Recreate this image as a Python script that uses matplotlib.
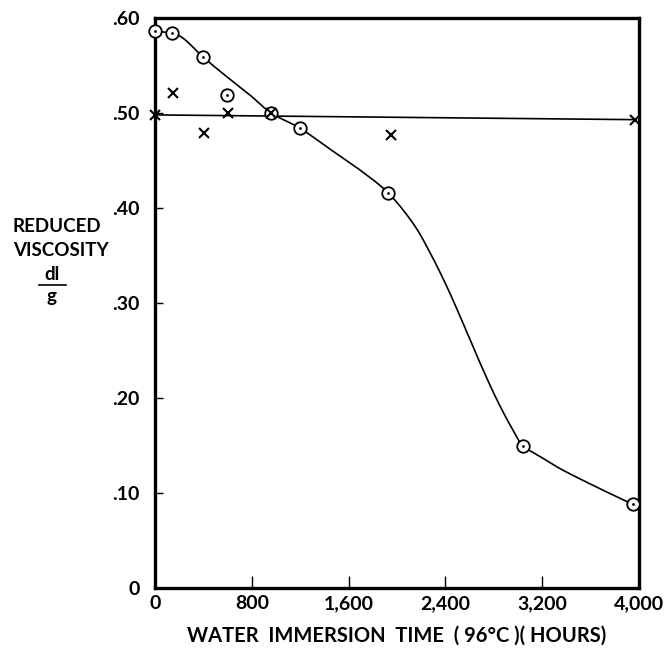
import numpy as np
import matplotlib
matplotlib.use("Agg")
from matplotlib import pyplot as plt

# open circles (reduced viscosity vs. immersion time)
circle_hours = [0, 140, 397, 595, 959, 1198, 1926, 3041, 3950]
circle_visc = [0.586, 0.584, 0.559, 0.519, 0.500, 0.484, 0.416, 0.150, 0.088]

# x marks
cross_hours = [0, 149, 405, 603, 959, 1950, 3967]
cross_visc = [0.498, 0.521, 0.479, 0.500, 0.500, 0.477, 0.493]

# hand drawn curve through the circles
curve_hours = [0, 140, 240, 397, 595, 793, 959, 1198, 1446, 1694, 1926, 2132,
               2273, 2413, 2545, 2686, 2826, 2959, 3041, 3200, 3372, 3653, 3950]
curve_visc = [0.586, 0.584, 0.578, 0.559, 0.538, 0.518, 0.500, 0.484, 0.462, 0.440,
              0.416, 0.384, 0.353, 0.317, 0.279, 0.237, 0.198, 0.166, 0.150, 0.137,
              0.124, 0.106, 0.088]

# flat line through the x marks
flat_hours = [0, 3967]
flat_visc = [0.498, 0.493]

x_ticks = [0, 800, 1600, 2400, 3200, 4000]
x_labels = ["0", "800", "1,600", "2,400", "3,200", "4,000"]
y_ticks = [0, 0.1, 0.2, 0.3, 0.4, 0.5, 0.6]
y_labels = ["0", ".10", ".20", ".30", ".40", ".50", ".60"]

plt.rcParams['font.family'] = ['Lato', 'DejaVu Sans']
plt.rcParams['font.weight'] = 'bold'

W, H = 669, 652
fig = plt.figure(figsize=(W / 100, H / 100), dpi=100)
ax = fig.add_axes([155 / W, 1 - 588 / H, 484 / W, 570 / H])

# smooth curve: catmull-rom through the read points
def catmull(xs, ys, n=20):
    p = np.column_stack([xs, ys]).astype(float)
    p = np.vstack([p[0], p, p[-1]])
    out = []
    for i in range(1, len(p) - 2):
        p0, p1, p2, p3 = p[i - 1], p[i], p[i + 1], p[i + 2]
        for t in np.linspace(0, 1, n, endpoint=False):
            out.append(0.5 * (2 * p1 + (-p0 + p2) * t + (2 * p0 - 5 * p1 + 4 * p2 - p3) * t ** 2
                              + (-p0 + 3 * p1 - 3 * p2 + p3) * t ** 3))
    out.append(p[-2])
    out = np.array(out)
    return out[:, 0], out[:, 1]

cx, cy = catmull(curve_hours, curve_visc)
ax.plot(cx, cy, color='black', lw=1.2, zorder=2)
ax.plot(flat_hours, flat_visc, color='black', lw=1.2, zorder=2)

ax.plot(circle_hours, circle_visc, 'o', ms=9, mfc='white', mec='black', mew=1.3,
        zorder=3, clip_on=False)
ax.plot(circle_hours, circle_visc, '.', ms=2, color='black', zorder=4, clip_on=False)
ax.plot(cross_hours, cross_visc, 'x', ms=6.5, mec='black', mew=1.5, zorder=5, clip_on=False)

ax.set_xlim(0, 4000)
ax.set_ylim(0, 0.6)
ax.set_xticks(x_ticks)
ax.set_xticklabels(x_labels)
ax.set_yticks(y_ticks)
ax.set_yticklabels(y_labels)
ax.tick_params(axis='x', direction='in', length=9, width=1, pad=5, labelsize=14)
ax.tick_params(axis='y', direction='in', length=6, width=1, pad=11, labelsize=14)
for s in ax.spines.values():
    s.set_linewidth(2.4)

ax.set_xlabel("WATER  IMMERSION  TIME  ( 96°C )( HOURS)", fontsize=14.5,
              fontweight='bold', labelpad=10)

def fx(px):
    return px / W

def fy(py):
    return 1 - py / H

lab = dict(ha='center', va='center', fontsize=13.5, fontweight='bold')
fig.text(fx(57), fy(227), "REDUCED", **lab)
fig.text(fx(61), fy(250), "VISCOSITY", **lab)
fig.text(fx(52), fy(274), "dl", **lab)
fig.add_artist(plt.Line2D([fx(39), fx(66)], [fy(285), fy(285)], color='black', lw=1.2))
fig.text(fx(52), fy(297), "g", **lab)

fig.savefig("out.png", dpi=100)
